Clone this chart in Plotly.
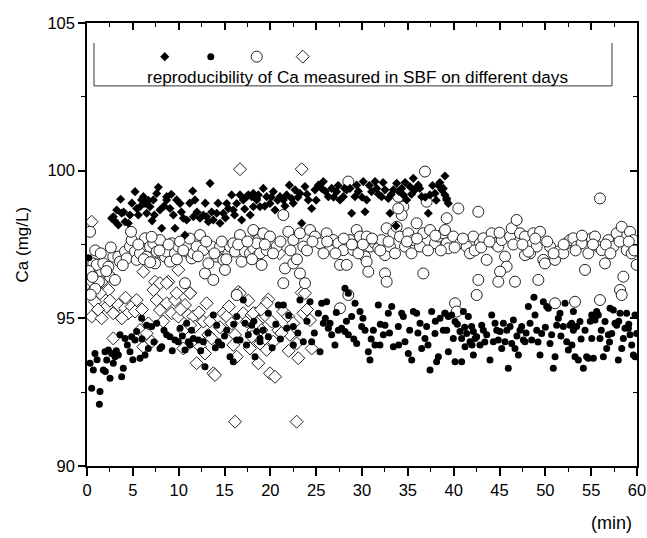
import plotly.graph_objects as go

# filled diamonds
dia_x = [2.87, 2.69, 3.67, 3.24, 3.78, 4.15, 4.51, 3.42, 5.24, 5.42, 5.78, 5.96, 4.69, 6.15, 6.33, 6.51,
         6.87, 7.24, 7.35, 7.78, 7.6, 7.96, 8.15, 8.69, 9.05, 8.69, 9.42, 9.78, 9.6, 10.15, 10.51, 10.87,
         10.69, 11.53, 11.6, 11.78, 12.33, 12.69, 13.05, 13.42, 13.24, 13.78, 14.15, 14.51, 14.87, 15.24,
         15.42, 15.78, 15.96, 16.33, 16.69, 16.87, 17.05, 17.42, 17.6, 17.96, 18.15, 18.51, 18.69,
         18.14, 18.51, 18.87, 19.23, 19.6, 19.96, 20.33, 20.51, 21.05, 21.42, 21.78, 22.07, 22.33, 22.69,
         23.23, 23.42, 23.78, 24.14, 24.51, 24.87, 25.24, 25.6, 25.78, 26.33, 26.69, 27.23, 27.6, 27.96,
         28.33, 28.69, 28.87, 29.23, 29.42, 30.14, 30.33, 30.51, 31.05, 31.42, 31.6, 32.14, 32.51, 32.87,
         33.42, 33.78, 34.33, 34.51, 34.87, 35.23, 35.6, 35.78, 36.14, 36.51, 37.23, 37.42, 37.96, 38.33,
         38.69, 39.05, 39.23, 33.05, 33.71, 38.87, 39.05, 39.24, 39.42,
         3.0, 4.0, 4.9, 5.6, 6.7, 7.1, 8.4, 9.2, 10.3, 11.2, 12.0, 12.9, 13.6, 14.3, 15.1, 16.1, 17.2,
         17.8, 19.4, 20.1, 20.8, 21.6, 22.5, 23.0, 24.0, 25.0, 26.0, 26.9, 27.4, 28.1, 29.6, 30.0, 30.8,
         31.8, 32.3, 33.2, 34.0, 34.7, 35.4, 36.3, 36.9, 37.7, 38.1, 38.5]
dia_y = [98.44, 98.39, 99.03, 98.67, 98.56, 98.27, 98.22, 98.16, 99.29, 98.72, 98.78, 99.01, 98.50, 99.12,
         98.89, 98.56, 98.78, 99.01, 98.50, 99.44, 99.23, 98.67, 98.05, 99.12, 98.72, 99.01, 98.50, 99.01,
         98.05, 98.89, 98.39, 98.33, 97.82, 99.31, 98.44, 99.01, 98.39, 98.50, 98.44, 99.57, 98.27, 98.33,
         98.56, 98.22, 98.56, 98.89, 98.72, 99.18, 98.67, 98.89, 99.18, 98.33, 99.01, 99.12, 99.18, 99.12,
         98.78, 99.06, 99.18,
         99.23, 99.01, 98.78, 99.40, 99.12, 98.89, 99.29, 98.67, 99.12, 99.01, 99.18, 99.51, 99.06, 99.35,
         99.23, 98.22, 99.46, 99.01, 98.72, 99.35, 99.51, 99.40, 99.63, 99.12, 99.40, 99.29, 99.01, 99.12,
         99.35, 99.40, 98.56, 99.12, 99.51, 99.63, 98.61, 99.01, 99.29, 99.63, 99.40, 99.12, 99.35, 99.06,
         99.35, 99.57, 99.40, 99.18, 99.01, 99.46, 99.74, 99.35, 99.51, 99.12, 98.56, 99.18, 99.23, 99.51,
         99.35, 99.82, 99.01, 98.56, 98.13, 99.40, 99.18, 99.06, 98.89,
         98.3, 98.6, 98.9, 98.5, 99.0, 98.3, 98.8, 99.2, 98.6, 98.9, 98.6, 98.9, 98.6, 98.9, 98.4, 98.5,
         98.7, 98.5, 98.8, 99.1, 99.0, 98.8, 98.9, 99.1, 99.2, 99.0, 99.3, 99.1, 99.5, 99.4, 99.3, 99.1,
         99.5, 99.2, 99.6, 99.2, 99.3, 99.6, 99.2, 99.4, 99.1, 99.5, 99.0, 99.6]

# filled circles
dot_x = [0.2, 0.33, 0.69, 0.87, 0.51, 1.42, 1.35, 1.78, 1.96, 2.51, 2.15, 2.33, 2.69, 2.87, 3.05, 3.42,
         3.6, 3.78, 3.96, 4.15, 4.69, 4.87, 5.24, 5.78, 5.96, 6.33, 6.51, 6.69, 7.05, 7.6, 7.96, 8.15,
         8.69, 9.05, 9.6, 9.96, 10.15, 10.69, 11.05, 11.24, 11.6, 12.15, 12.69, 12.87, 13.78, 14.15,
         14.33, 14.69, 15.24, 15.6, 15.96, 16.33, 16.69, 17.05, 17.24, 17.6, 17.96, 18.51, 18.87, 16.33,
         10.87, 5.42,
         19.78, 20.87, 21.42, 23.23, 24.33, 25.6, 26.14, 28.14, 28.51, 24.51, 25.24, 25.78, 26.51, 26.69,
         27.05, 27.42, 27.78, 28.14, 28.51, 28.87, 29.24, 29.42, 29.78, 29.96, 30.33, 30.69, 30.87, 31.24,
         31.42, 31.78, 31.96, 32.33, 32.51, 32.87, 33.24, 33.42, 33.96, 34.33, 34.51, 34.69, 35.05, 35.42,
         35.6, 35.96, 36.33, 36.51, 36.87, 37.05, 37.42, 37.6, 37.96, 38.14, 38.33, 38.51, 38.87, 39.05,
         39.42, 18.87, 18.33, 19.78, 21.78, 22.51, 23.6, 22.51, 25.42, 26.33,
         39.06, 39.42, 39.78, 40.15, 39.24, 39.96, 40.15, 40.69, 40.87, 41.06, 40.87, 41.42, 41.24,
         41.78, 41.6, 41.96, 42.15, 42.15, 42.51, 42.33, 42.87, 43.06, 43.24, 43.6, 43.96, 44.15, 44.33,
         44.51, 44.87, 45.06, 45.24, 45.42, 45.6, 45.96, 46.15, 46.33, 46.51, 46.69, 47.06, 47.24, 47.42,
         47.6, 47.78, 48.15, 48.33, 48.51, 48.87, 49.06, 49.42, 49.6, 49.78, 50.15, 50.33, 50.51, 50.69,
         50.87, 51.06, 51.24, 51.42, 51.6, 51.96, 52.15, 52.33, 52.51, 52.69, 52.87, 53.06, 53.24, 53.42,
         53.6, 53.78, 54.15, 54.33, 54.51, 54.69, 55.06, 55.24, 55.42, 55.6, 55.78, 55.96, 56.33, 56.51,
         56.69, 56.87, 57.06, 57.42, 57.24, 57.6, 57.78, 57.96, 58.15, 58.33, 58.51, 58.69, 58.87, 59.06,
         59.24, 59.42, 59.6, 59.78, 59.96, 53.06, 55.06, 48.76,
         1.1, 2.0, 3.2, 4.4, 5.0, 6.0, 7.3, 8.4, 9.3, 10.4, 11.4, 12.4, 13.2, 14.0, 15.0, 16.0, 17.4,
         18.2, 19.2, 20.2, 20.6, 21.1, 22.0, 23.0, 24.0, 24.8, 26.0, 27.2, 28.3, 29.1, 30.1, 31.0, 32.0,
         33.0, 34.0, 35.2, 36.1, 37.2, 38.0, 40.4, 41.2, 42.0, 43.4, 44.7, 45.8, 46.9, 47.9, 49.2, 50.0,
         51.7, 52.9, 53.9, 54.9, 56.1, 57.0, 58.0, 59.1, 59.8]
dot_y = [97.05, 93.48, 93.25, 93.81, 92.63, 92.52, 92.09, 93.25, 93.87, 92.97, 93.59, 93.93, 93.81, 93.48,
         93.70, 93.76, 94.44, 93.02, 93.31, 94.32, 93.87, 94.38, 94.27, 93.65, 95.00, 93.76, 94.77, 93.98,
         94.72, 94.83, 93.98, 94.04, 94.44, 94.38, 94.27, 94.21, 94.66, 93.93, 94.21, 94.10, 94.32, 94.27,
         94.21, 93.36, 95.11, 94.77, 94.21, 94.10, 94.60, 93.70, 93.53, 94.27, 94.27, 95.62, 94.83, 94.44,
         94.77, 94.55, 94.32, 95.06, 94.83, 94.55,
         95.17, 95.45, 95.45, 95.62, 95.56, 95.51, 95.56, 96.02, 95.85, 94.21, 95.17, 94.83, 94.83, 94.44,
         94.10, 94.60, 94.66, 94.55, 94.44, 95.06, 95.51, 94.15, 95.23, 94.72, 94.60, 93.87, 93.59, 94.60,
         94.10, 95.45, 94.10, 94.44, 94.77, 95.17, 95.40, 94.04, 94.72, 95.17, 95.06, 94.21, 93.81, 93.59,
         95.23, 95.17, 94.83, 93.98, 94.32, 94.72, 93.25, 95.23, 94.49, 93.53, 93.70, 95.00, 94.60, 95.17,
         93.87, 94.21, 93.70, 94.38, 94.66, 94.10, 94.21, 94.72, 93.87, 94.66,
         95.17, 95.06, 95.11, 94.89, 94.60, 94.32, 93.53, 94.55, 94.32, 95.23, 93.53, 94.49, 94.04,
         94.21, 95.06, 94.72, 94.55, 93.76, 94.38, 94.32, 94.10, 94.77, 94.60, 94.44, 93.59, 95.11, 94.21,
         94.83, 94.27, 94.55, 93.98, 94.83, 94.21, 93.31, 94.72, 94.15, 94.94, 93.98, 93.76, 94.60, 94.72,
         94.27, 94.21, 95.40, 94.83, 94.27, 95.11, 94.60, 93.76, 94.49, 95.56, 95.40, 95.34, 94.15, 94.44,
         93.31, 93.70, 94.77, 95.00, 95.17, 94.72, 95.51, 94.21, 93.93, 94.77, 94.83, 94.60, 93.70, 94.72,
         93.59, 94.89, 93.31, 94.60, 93.70, 93.65, 94.32, 93.65, 94.94, 95.23, 95.11, 94.32, 93.70, 94.89,
         93.98, 94.44, 95.34, 95.28, 94.49, 94.83, 94.77, 93.59, 95.17, 93.98, 94.32, 94.66, 95.17, 94.66,
         94.44, 94.10, 93.76, 95.11, 94.49, 95.23, 95.11, 95.71,
         93.6, 93.2, 93.9, 94.1, 93.6, 94.3, 94.2, 94.6, 93.9, 94.4, 94.6, 93.9, 94.5, 94.0, 94.4, 94.8,
         94.1, 94.9, 94.6, 94.0, 94.8, 94.3, 95.1, 94.5, 94.9, 94.5, 95.0, 95.2, 94.9, 94.3, 95.0, 94.3,
         94.8, 94.5, 94.1, 94.6, 94.5, 94.1, 94.9, 94.8, 94.7, 94.1, 94.2, 94.6, 94.6, 94.4, 94.5, 94.2,
         94.7, 94.4, 94.1, 94.3, 94.9, 94.6, 94.2, 94.9, 94.8, 93.7]

# open circles
ring_x = [0.33, 0.69, 0.51, 1.05, 1.78, 2.33, 2.87, 2.51, 3.05, 3.42, 3.6, 4.15, 4.33, 4.69, 4.87, 5.24,
          5.42, 5.78, 6.33, 6.51, 6.87, 7.24, 7.42, 7.6, 7.96, 8.15, 8.51, 8.69, 9.05, 9.24, 9.6, 9.96,
          10.15, 10.69, 10.87, 11.05, 11.42, 11.6, 11.96, 12.33, 12.69, 12.87, 13.24, 13.6, 13.78, 14.15,
          14.51, 14.87, 15.05, 15.42, 15.6, 15.96, 16.15, 16.69, 16.87, 17.24, 17.78, 18.15, 18.33, 18.51,
          18.69, 4.8, 7.05, 16.33, 1.3, 0.2, 0.6, 0.9, 0.4,
          28.51, 21.42, 18.14, 19.23, 19.96, 18.51, 18.87, 19.6, 20.69, 21.96, 22.51, 23.23, 23.6, 24.33,
          24.87, 25.42, 26.14, 26.51, 26.87, 27.42, 27.6, 27.96, 28.69, 29.05, 29.42, 29.78, 30.33, 30.51,
          30.87, 31.42, 31.78, 32.14, 32.51, 32.69, 33.05, 33.42, 33.78, 33.96, 34.14, 34.51, 34.69, 35.05,
          35.6, 35.96, 36.33, 36.69, 37.05, 37.42, 37.96, 38.33, 38.87, 39.23, 36.87, 36.69, 19.05, 21.6,
          22.51, 23.23, 21.42, 28.33, 30.51, 30.69, 32.51, 32.69, 34.33, 33.96, 23.78, 28.51, 27.6,
          55.96, 40.51, 42.69, 39.24, 39.06, 39.96, 39.42, 40.69, 41.42, 42.15, 41.78, 42.87, 43.24, 43.6,
          44.15, 44.51, 44.87, 45.24, 45.6, 45.78, 46.15, 46.33, 46.87, 47.24, 47.78, 48.33, 48.69, 49.06,
          49.42, 49.78, 49.96, 50.51, 51.06, 51.42, 51.96, 52.33, 52.69, 53.06, 53.42, 53.96, 54.33, 54.69,
          55.06, 55.42, 55.78, 56.15, 56.51, 56.87, 57.42, 57.78, 58.33, 58.51, 58.87, 59.24, 59.42, 59.6,
          59.96, 58.15, 58.33, 42.51, 42.69, 45.06, 44.87, 46.69, 49.24, 47.78, 48.15, 40.15, 40.33, 51.06,
          53.24, 55.96,
          0.9, 1.5, 2.1, 2.6, 3.9, 5.6, 6.2, 6.9, 7.9, 8.9, 9.8, 10.5, 11.2, 12.1, 13.0, 13.9, 14.7, 15.2,
          16.5, 17.5, 18.0, 19.4, 20.3, 21.1, 22.2, 22.9, 24.0, 24.6, 25.8, 26.2, 27.1, 28.0, 28.9, 29.6,
          30.1, 31.1, 32.0, 32.9, 33.6, 34.9, 35.4, 36.0, 37.2, 38.0, 38.6, 40.1, 41.0, 42.3, 43.0, 43.9,
          45.0, 46.5, 47.5, 48.9, 50.2, 50.9, 52.0, 53.3, 54.0, 55.2, 56.6, 57.1, 58.1, 59.1, 59.7]
ring_y = [97.93, 96.86, 96.47, 96.81, 96.86, 96.75, 97.09, 96.41, 96.30, 97.09, 96.92, 97.26, 97.03, 97.43,
          97.65, 97.26, 96.98, 97.20, 97.71, 97.09, 97.43, 97.54, 96.86, 97.26, 97.65, 97.20, 97.09, 97.26,
          96.92, 97.54, 97.20, 97.43, 97.60, 96.19, 97.26, 97.43, 97.03, 97.20, 97.43, 97.82, 97.31, 96.52,
          96.86, 97.43, 96.30, 97.09, 97.43, 96.98, 96.64, 97.20, 97.43, 97.54, 97.26, 97.82, 96.92, 97.26,
          97.20, 97.37, 97.93, 97.09, 97.65, 97.93, 97.76, 95.79, 96.24, 96.60, 96.40, 96.00, 95.80,
          99.63, 98.50, 97.99, 97.88, 97.77, 97.54, 97.20, 97.31, 97.43, 97.93, 97.65, 97.88, 97.43, 97.99,
          97.77, 97.54, 97.88, 97.37, 97.65, 97.54, 96.81, 97.31, 97.65, 97.31, 97.99, 97.77, 97.09, 97.77,
          97.43, 97.54, 97.37, 97.65, 97.14, 98.05, 97.43, 97.88, 98.10, 99.12, 97.77, 98.78, 97.43, 97.88,
          97.65, 98.22, 97.43, 97.88, 98.95, 97.99, 97.54, 97.77, 97.88, 97.54, 99.97, 96.52, 96.81, 96.69,
          96.86, 96.52, 96.19, 96.81, 96.92, 96.58, 96.52, 96.24, 98.50, 98.72, 96.19, 95.79, 95.34,
          99.06, 98.72, 98.61, 98.39, 97.99, 97.77, 97.37, 97.54, 97.43, 97.77, 97.20, 97.54, 97.71, 96.98,
          97.88, 97.54, 97.43, 97.65, 97.09, 96.75, 97.77, 98.05, 98.33, 97.88, 97.77, 97.20, 97.88, 97.43,
          97.93, 96.98, 96.86, 97.43, 96.98, 97.26, 97.20, 97.54, 97.65, 97.71, 97.43, 97.54, 96.64, 97.20,
          97.71, 97.77, 97.43, 97.31, 96.86, 97.65, 97.43, 97.88, 98.10, 96.41, 97.31, 97.93, 97.20, 97.65,
          96.81, 95.96, 95.79, 95.79, 96.30, 96.58, 96.24, 96.24, 96.30, 97.14, 97.26, 95.51, 95.23, 95.51,
          95.56, 95.62,
          97.3, 97.2, 96.6, 97.4, 96.8, 97.5, 97.0, 96.9, 97.3, 97.5, 97.0, 97.3, 97.7, 97.1, 97.6, 97.2,
          97.6, 97.0, 97.5, 97.6, 97.0, 97.5, 97.2, 97.6, 97.3, 97.0, 97.3, 97.6, 97.2, 97.6, 97.2, 97.7,
          97.5, 97.2, 97.5, 97.7, 97.3, 97.6, 97.2, 97.6, 97.2, 97.7, 97.3, 97.8, 97.3, 97.4, 97.7, 97.3,
          97.4, 97.6, 97.9, 97.5, 97.5, 97.7, 97.6, 97.2, 97.5, 97.3, 97.8, 97.5, 97.5, 97.2, 97.6, 97.6,
          97.3]

# open diamonds
rhomb_x = [0.51, 16.69, 6.15, 7.42, 8.87, 9.96, 2.33, 1.6, 0.51, 1.05, 16.51, 11.24, 23.42, 21.0, 23.42,
           19.78, 0.69, 1.42, 0.87, 0.51, 1.6, 2.15, 2.87, 3.42, 2.87, 4.15, 4.51, 4.87, 5.42, 5.24, 5.78,
           6.51, 6.69, 7.24, 7.6, 7.96, 8.69, 7.96, 8.69, 9.24, 9.6, 9.78, 9.96, 10.51, 10.69, 11.05, 11.24,
           11.6, 11.78, 11.96, 12.33, 12.69, 13.05, 12.87, 13.24, 13.6, 13.78, 13.96, 14.87, 15.24, 15.78,
           16.15, 16.33, 15.96, 16.69, 17.05, 17.42, 17.96, 18.33, 18.15, 17.78, 16.15, 18.69, 18.69, 10.51,
           11.24, 6.15, 7.05, 19.6, 18.14, 18.51, 19.05, 18.87, 18.69, 19.6, 19.96, 20.51, 20.33, 20.87,
           21.42, 21.96, 22.51, 22.14, 22.87, 23.6, 23.78, 24.33, 24.51, 23.05, 22.87, 17.96, 20.14, 19.42,
           1.2, 2.5, 3.8, 4.2, 6.0, 8.3, 10.2, 12.2, 13.4, 14.5, 15.5, 17.6, 19.0, 21.2, 22.0, 24.0]
rhomb_y = [98.27, 100.05, 96.58, 96.24, 96.24, 96.64, 95.96, 96.24, 96.24, 95.90, 95.90, 95.85, 100.05,
           97.20, 95.87, 95.64, 95.96, 95.85, 95.56, 95.06, 95.00, 95.40, 95.17, 95.45, 94.32, 95.34, 95.17,
           95.40, 95.62, 95.23, 94.60, 94.49, 94.83, 95.96, 95.62, 96.19, 96.19, 95.28, 95.51, 95.17, 95.62,
           95.85, 95.06, 94.60, 95.45, 95.11, 95.85, 95.06, 94.72, 93.48, 94.04, 94.89, 95.51, 93.81, 94.44,
           94.32, 93.14, 93.08, 95.17, 95.06, 94.83, 94.44, 93.70, 94.10, 95.85, 95.17, 94.89, 95.11, 95.17,
           94.60, 93.98, 91.50, 94.89, 94.38, 93.98, 94.77, 94.04, 94.21, 95.51, 95.17, 94.83, 94.60, 94.15,
           93.48, 93.93, 93.14, 93.02, 94.21, 94.60, 95.23, 95.06, 94.83, 94.44, 94.15, 95.17, 95.85, 94.94,
           93.98, 93.65, 91.50, 94.38, 94.89, 94.32,
           95.3, 95.6, 95.0, 95.7, 95.3, 94.9, 95.3, 95.2, 94.9, 94.7, 95.4, 95.6, 95.3, 94.5, 93.9, 95.3]

legend_text = "reproducibility of Ca measured in SBF on different days"

FONT = "Arial, Liberation Sans, sans-serif"

fig = go.Figure()

fig.add_trace(go.Scatter(
    x=rhomb_x, y=rhomb_y, mode="markers", name="", legendrank=4,
    marker=dict(symbol="diamond", size=10, color="white", line=dict(color="#222", width=1))))
fig.add_trace(go.Scatter(
    x=ring_x, y=ring_y, mode="markers", name="", legendrank=3,
    marker=dict(symbol="circle", size=11, color="white", line=dict(color="#222", width=1))))
fig.add_trace(go.Scatter(
    x=dia_x, y=dia_y, mode="markers", name="", legendrank=1,
    marker=dict(symbol="diamond", size=7, color="black", line=dict(width=0))))
fig.add_trace(go.Scatter(
    x=dot_x, y=dot_y, mode="markers", name="", legendrank=2,
    marker=dict(symbol="circle", size=7, color="black", line=dict(width=0))))

# empty trace so the top/right tick axes get drawn
fig.add_trace(go.Scatter(x=[None], y=[None], xaxis="x2", yaxis="y2",
                         showlegend=False, hoverinfo="skip"))

axis_common = dict(showgrid=False, zeroline=False, tickcolor="black", automargin=False,
                   tickfont=dict(family=FONT, size=16.5, color="black"))

fig.update_layout(
    width=647, height=538,
    margin=dict(l=87, r=10, t=23, b=72),
    paper_bgcolor="white", plot_bgcolor="white",
    font=dict(family=FONT, color="black"),
    xaxis=dict(range=[0, 60], tick0=0, dtick=5, ticks="outside", ticklen=8, tickwidth=1.5,
               showline=True, mirror=True, linecolor="black", linewidth=1.5,
               minor=dict(dtick=2.5, ticks="outside", ticklen=4, tickwidth=1.2, tickcolor="black"),
               **axis_common),
    yaxis=dict(range=[90, 105], tick0=90, dtick=5, ticks="outside", ticklen=7, tickwidth=1.5,
               showline=True, mirror=True, linecolor="black", linewidth=1.5,
               minor=dict(dtick=2.5, ticks="outside", ticklen=4, tickwidth=1.2, tickcolor="black"),
               **axis_common),
    xaxis2=dict(range=[0, 60], overlaying="x", side="top", tick0=0, dtick=5, ticks="inside",
                ticklen=7, tickwidth=1.5, showticklabels=False, showline=False,
                minor=dict(dtick=2.5, ticks="inside", ticklen=4, tickwidth=1.2, tickcolor="black"),
                **axis_common),
    yaxis2=dict(range=[90, 105], overlaying="y", side="right", tick0=90, dtick=5, ticks="inside",
                ticklen=7, tickwidth=1.5, showticklabels=False, showline=False,
                minor=dict(dtick=2.5, ticks="inside", ticklen=4, tickwidth=1.2, tickcolor="black"),
                **axis_common),
    showlegend=True,
    legend=dict(orientation="h", x=0.105, y=0.924, xanchor="left", yanchor="middle",
                entrywidth=1, entrywidthmode="pixels", itemwidth=30, bgcolor="rgba(0,0,0,0)",
                borderwidth=0, font=dict(size=10), traceorder="normal"),
    shapes=[dict(type="path", xref="paper", yref="paper",
                 path="M 0.0127 0.955 L 0.0127 0.858 L 0.9545 0.858 L 0.9545 0.955",
                 line=dict(color="#333", width=1))],
    annotations=[
        dict(text=legend_text, xref="paper", yref="paper", x=0.4927, y=0.879,
             xanchor="center", yanchor="middle",
             showarrow=False, font=dict(family=FONT, size=17.2, color="black")),
        dict(text="Ca (mg/L)", xref="paper", yref="paper", x=-0.1164, y=0.5, textangle=-90,
             xanchor="center", yanchor="middle",
             showarrow=False, font=dict(family=FONT, size=17, color="black")),
        dict(text="(min)", xref="paper", yref="paper", x=0.9545, y=-0.1287,
             xanchor="center", yanchor="middle",
             showarrow=False, font=dict(family=FONT, size=18, color="black")),
    ],
)

fig.write_html("out.html", config={"displayModeBar": False},
               post_script="document.body.style.margin='0';document.body.style.overflow='hidden';")
